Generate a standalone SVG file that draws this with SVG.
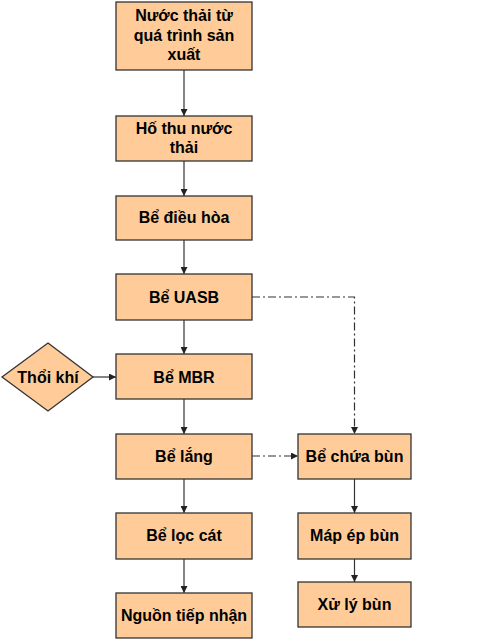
<svg xmlns="http://www.w3.org/2000/svg" width="489" height="640" viewBox="0 0 489 640">
<defs>
<marker id="ah" viewBox="0 0 10 10" refX="10" refY="5" markerWidth="7" markerHeight="7" markerUnits="userSpaceOnUse" orient="auto">
<path d="M0,0 L10,5 L0,10 z" fill="#222"/>
</marker>
<style>
.box{fill:#FFCC99;stroke:#333;stroke-width:1.3}
.t{font-family:"Liberation Sans",Arial,sans-serif;font-weight:bold;font-size:16px;fill:#000;text-anchor:middle}
.c{stroke:#333;stroke-width:1.2;fill:none}
.d{stroke:#333;stroke-width:1.2;fill:none;stroke-dasharray:8 3 2 3}
</style>
</defs>
<rect width="489" height="640" fill="#fff"/>
<g id="connectors">
<line class="c" x1="184" y1="70" x2="184" y2="116" marker-end="url(#ah)"/>
<line class="c" x1="184" y1="161" x2="184" y2="196" marker-end="url(#ah)"/>
<line class="c" x1="184" y1="240" x2="184" y2="274" marker-end="url(#ah)"/>
<line class="c" x1="184" y1="320" x2="184" y2="354" marker-end="url(#ah)"/>
<line class="c" x1="184" y1="399" x2="184" y2="434" marker-end="url(#ah)"/>
<line class="c" x1="184" y1="479" x2="184" y2="513" marker-end="url(#ah)"/>
<line class="c" x1="184" y1="559" x2="184" y2="593" marker-end="url(#ah)"/>
<line class="c" x1="93" y1="377" x2="116" y2="377" marker-end="url(#ah)"/>
<line class="c" x1="354.5" y1="479" x2="354.5" y2="513" marker-end="url(#ah)"/>
<line class="c" x1="354.5" y1="559" x2="354.5" y2="582" marker-end="url(#ah)"/>
<polyline class="d" points="252,297 354.5,297 354.5,434" marker-end="url(#ah)"/>
<line class="d" x1="252" y1="456" x2="298" y2="456" marker-end="url(#ah)"/>
</g>
<g id="n1"><rect class="box" x="116" y="2" width="136" height="68"/>
<text class="t" x="184" y="21">Nước thải từ</text><text class="t" x="184" y="40.5">quá trình sản</text><text class="t" x="184" y="60">xuất</text></g>
<g id="n2"><rect class="box" x="116" y="116" width="136" height="45"/>
<text class="t" x="184" y="133.5">Hố thu nước</text><text class="t" x="184" y="153">thải</text></g>
<g id="n3"><rect class="box" x="116" y="196" width="136" height="44"/>
<text class="t" x="184" y="223">Bể điều hòa</text></g>
<g id="n4"><rect class="box" x="116" y="274" width="136" height="46"/>
<text class="t" x="184" y="303">Bể UASB</text></g>
<g id="n5"><rect class="box" x="116" y="354" width="136" height="45"/>
<text class="t" x="184" y="382.5">Bể MBR</text></g>
<g id="n6"><polygon class="box" points="48,343 93,377 48,411 2,377"/>
<text class="t" x="48" y="382.5">Thổi khí</text></g>
<g id="n7"><rect class="box" x="116" y="434" width="136" height="45"/>
<text class="t" x="184" y="462">Bể lắng</text></g>
<g id="n8"><rect class="box" x="116" y="513" width="136" height="46"/>
<text class="t" x="184" y="541">Bể lọc cát</text></g>
<g id="n9"><rect class="box" x="116" y="593" width="136" height="45"/>
<text class="t" x="184" y="621">Nguồn tiếp nhận</text></g>
<g id="n10"><rect class="box" x="298" y="434" width="113" height="45"/>
<text class="t" x="354.5" y="462">Bể chứa bùn</text></g>
<g id="n11"><rect class="box" x="298" y="513" width="113" height="46"/>
<text class="t" x="354.5" y="541">Máp ép bùn</text></g>
<g id="n12"><rect class="box" x="298" y="582" width="113" height="45"/>
<text class="t" x="354.5" y="610">Xử lý bùn</text></g>
</svg>
